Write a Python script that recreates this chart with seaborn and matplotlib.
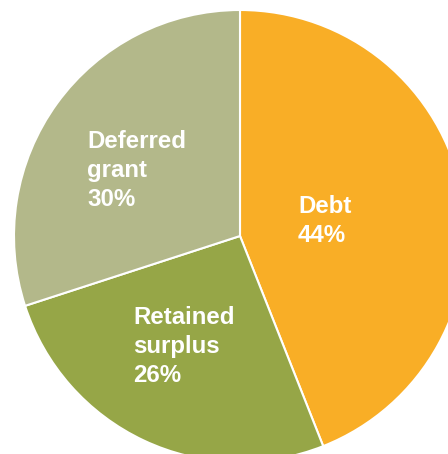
import matplotlib
matplotlib.use("Agg")
import matplotlib.pyplot as plt
import seaborn as sns

categories = ["Debt", "Retained\nsurplus", "Deferred\ngrant"]
shares = [44, 26, 30]
colors = ["#F9AE26", "#96A647", "#B3B88A"]

sns.set_theme(style="white")
plt.rcParams["font.family"] = ["Liberation Sans", "DejaVu Sans"]

fig = plt.figure(figsize=(4.48, 4.54), dpi=100)
ax = fig.add_axes([0, 0, 1, 1])
R = 226.0
cx, cy = 240.0, 236.0
ax.pie(shares, colors=sns.color_palette(colors), startangle=90, counterclock=False,
       radius=1.0, center=(0, 0),
       wedgeprops=dict(edgecolor="white", linewidth=1.5))
ax.set_xlim((0 - cx) / R, (448 - cx) / R)
ax.set_ylim((cy - 454) / R, (cy - 0) / R)
ax.set_aspect("auto")
ax.axis("off")

def px(x, y):
    return (x - cx) / R, (cy - y) / R

label_pos = [(298, 195), (133, 306), (87, 130)]
for cat, val, (x, y) in zip(categories, shares, label_pos):
    tx, ty = px(x, y)
    ax.text(tx, ty, f"{cat}\n{val}%", color="white", fontsize=17.3, fontweight="bold",
            ha="left", va="top", linespacing=1.33)

fig.savefig("out.png", dpi=100)
